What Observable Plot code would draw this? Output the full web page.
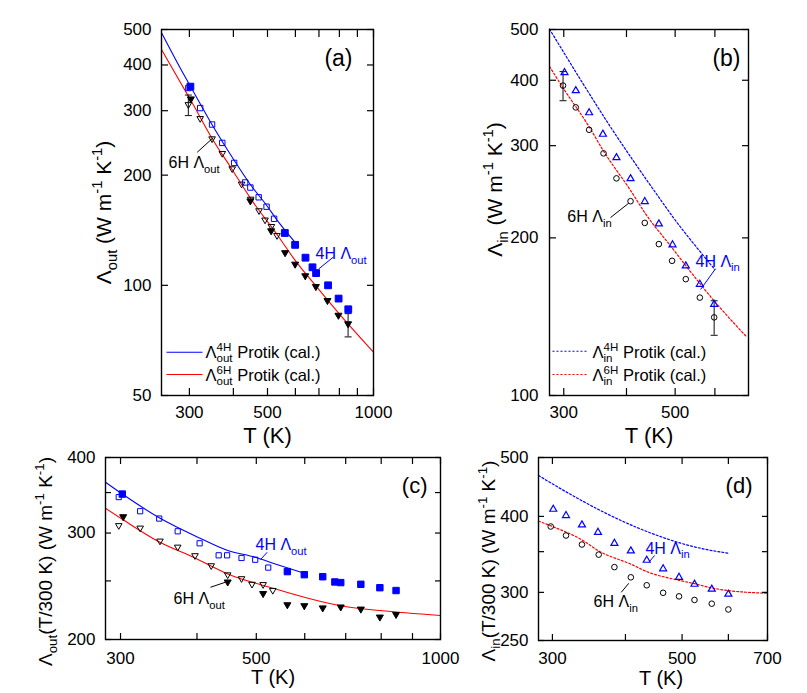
<!DOCTYPE html>
<html><head><meta charset="utf-8">
<script src="https://cdn.jsdelivr.net/npm/d3@7"></script>
<script src="https://cdn.jsdelivr.net/npm/@observablehq/plot@0.6"></script>
<style>
body{margin:0;background:#fff;}
#wrap{position:relative;width:807px;height:693px;font-family:"Liberation Sans",Arial,Helvetica,sans-serif;}
#wrap svg{position:absolute;overflow:visible;}
</style></head><body><div id="wrap"></div>
<script>
// ================= DATA =================
// Panel (a): out-of-plane conductivity vs T
const a4hOpenT = [298, 322, 348, 372, 402, 432, 447, 472, 497, 522];
const a4hOpenL = [346, 305, 275, 245, 216, 191, 185, 174, 164, 152];
const a4hFillT = [302, 560, 599, 641, 671, 687, 743, 796, 848];
const a4hFillL = [349, 139, 129, 119, 112, 108, 100, 92, 86];
const a6hOpenT = [298, 322, 348, 372, 397, 422, 448, 473, 492, 513, 532];
const a6hOpenL = [310, 284, 250, 228, 207, 188, 171, 159, 150, 144, 136];
const a6hFillT = [303, 447, 512, 561, 599, 640, 686, 740, 795, 847];
const a6hFillL = [321, 169, 140, 122, 113.5, 105.5, 98.6, 90.3, 82.3, 78];
const aErrT = [298, 847];
const aErrLo = [291, 72.3];
const aErrHi = [331, 83.7];
const aCal4hT = [250, 284, 302, 347, 404, 448, 498, 537, 599];
const aCal4hL = [490, 389, 350, 276, 218, 188, 165, 149, 131];
const aCal6hT = [250, 284, 303, 348, 397, 449, 537, 599, 687, 796, 1000];
const aCal6hL = [441, 356, 320, 252, 207, 172, 136, 117, 99.5, 84, 65.7];

// Panel (b): in-plane conductivity vs T
const b4hT = [301, 317, 337, 359, 382, 407.5, 435, 464, 494, 525, 560, 598];
const b4hL = [415.6, 383.8, 348.3, 316.9, 285.9, 260.6, 235.7, 213.6, 194.9, 177.6, 163.8, 150];
const b6hT = [299, 317, 337, 360, 382, 407.5, 435, 464, 493, 525, 560, 598];
const b6hL = [390.7, 355, 321.7, 290, 259.8, 235, 213.6, 194.6, 180.8, 166.8, 153.8, 141];
const bErrT = [299, 598];
const bErrLo = [365.6, 130.3];
const bErrHi = [415.6, 151.7];
const bCal4hT = [281, 324, 370, 420, 467, 497, 549, 600];
const bCal4hL = [501, 401, 328, 274, 237, 218, 193, 174];
const bCal6hT = [281, 300, 337, 360, 408, 437, 494, 525, 562, 600, 650, 694];
const bCal6hL = [425, 385, 326, 293, 246, 222, 191, 177, 163, 151, 138.5, 129.4];

// Panel (c): Λout·(T/300 K) vs T
const c4hOpenT = [298, 323, 347, 372, 404, 434, 448, 473, 498, 523];
const c4hOpenV = [344, 326, 317, 302, 288.5, 275.6, 275.6, 272.8, 271, 263];
const c4hFillT = [302, 562, 599, 642, 672, 687, 741, 796, 846];
const c4hFillV = [348, 259, 256, 254, 249, 248.4, 246.8, 243.6, 241];
const c6hOpenT = [298, 323, 348, 372, 397, 422, 449, 473, 492, 513, 532];
const c6hOpenV = [307.6, 304.7, 290, 283.4, 274.3, 264, 255, 251.3, 246, 245.7, 240.3];
const c6hFillT = [303, 449, 513, 562, 599, 642, 687, 741, 796, 846];
const c6hFillV = [318, 248, 237.3, 227.4, 226.6, 224.7, 225.5, 223.7, 217, 219.2];
const cCal4hT = [283.5, 302, 347, 404, 448, 498, 537, 599];
const cCal4hV = [364, 348, 318, 294.4, 281, 273.5, 266.7, 257.4];
const cCal6hT = [283.5, 303, 348, 397, 449, 537, 599, 687, 796, 1000];
const cCal6hV = [329.6, 315.5, 289.6, 272.8, 256.7, 242.6, 234.9, 227.4, 223.3, 219.1];

// Panel (d): Λin·(T/300 K) vs T
const d4hT = [301, 316.5, 337, 359, 383, 408.6, 435, 464, 494, 525, 562, 600];
const d4hV = [412.6, 402.9, 388.8, 378, 362.6, 352.3, 340.1, 329.3, 318.8, 310.6, 304.8, 299.1];
const d6hT = [298, 316.5, 337, 360, 383, 408.6, 435, 464, 494, 525, 562, 600];
const d6hV = [385, 372.1, 359.6, 346.1, 330.1, 317.6, 308.2, 299.5, 295.5, 291.5, 287.4, 281.2];
const dCal4hT = [284, 324, 370, 420, 467, 497, 549, 600];
const dCal4hV = [467, 433.5, 405, 383, 368.5, 361.5, 353, 348];
const dCal6hT = [284, 300, 337, 360, 408, 437, 494, 525, 562, 600, 650, 700];
const dCal6hV = [393, 385, 366, 351, 334, 324, 314, 310, 305, 302, 300, 299];

// Tick values and labels
const aTicksX = [300, 400, 500, 600, 700, 800, 900, 1000], aLabX = [300, 500, 1000];
const aTicksY = [50, 100, 200, 300, 400, 500], aLabY = [50, 100, 200, 300, 400, 500];
const bTicksX = [300, 400, 500, 600], bLabX = [300, 500];
const bTicksY = [100, 200, 300, 400, 500], bLabY = [100, 200, 300, 400, 500];
const cTicksX = [300, 400, 500, 600, 700, 800, 900, 1000], cLabX = [300, 500, 1000];
const cTicksY = [200, 250, 300, 350, 400], cLabY = [200, 300, 400];
const dTicksX = [300, 400, 500, 600, 700], dLabX = [300, 500, 700];
const dTicksY = [250, 300, 350, 400, 500], dLabY = [250, 300, 400, 500];

// Texts
const xTitle = "T (K)";
const yTitleA = "Λ_{out} (W m^{-1} K^{-1})";
const yTitleB = "Λ_{in} (W m^{-1} K^{-1})";
const yTitleC = "Λ_{out}(T/300 K) (W m^{-1} K^{-1})";
const yTitleD = "Λ_{in}(T/300 K) (W m^{-1} K^{-1})";
const legA = ["Λ^{4H}_{out} Protik (cal.)", "Λ^{6H}_{out} Protik (cal.)"];
const legB = ["Λ^{4H}_{in} Protik (cal.)", "Λ^{6H}_{in} Protik (cal.)"];

// ================= HELPERS =================
const BLUE = "#0000ff", RED = "#ff0000";
const rows = (xs, ys) => xs.map((x, i) => ({x, y: ys[i]}));
const errRows = (xs, lo, hi) => xs.map((x, i) => ({x, lo: lo[i], hi: hi[i]}));
const rad = s => Math.sqrt(s / Math.PI);
const sqSym = {draw(c, s) { const r = rad(s); c.moveTo(-r, -r); c.lineTo(r, -r); c.lineTo(r, r); c.lineTo(-r, r); c.closePath(); }};
const triUp = {draw(c, s) { const r = rad(s), h = r * Math.sqrt(3) / 2; c.moveTo(0, -h); c.lineTo(r, h); c.lineTo(-r, h); c.closePath(); }};
const triDown = {draw(c, s) { const r = rad(s), h = r * Math.sqrt(3) / 2; c.moveTo(0, h); c.lineTo(r, -h); c.lineTo(-r, -h); c.closePath(); }};
const capSym = {draw(c, s) { const r = rad(s); c.moveTo(-r, 0); c.lineTo(r, 0); }};
const lineSym = L => ({draw(c) { c.moveTo(-L, 0); c.lineTo(L, 0); }});
const STYLE = {fontFamily: '"Liberation Sans", Arial, Helvetica, sans-serif', fontSize: "16px", overflow: "visible", background: "none", color: "black"};
const fmt = d => String(d);

function axes(xt, xl, yt, yl, tick, padX, padY, fs) {
  const tk = {tickSize: -tick, tickFormat: () => "", label: null, strokeWidth: 1.2};
  return [
    Plot.axisX(xt, {anchor: "bottom", ...tk}),
    Plot.axisX(xt, {anchor: "top", ...tk}),
    Plot.axisY(yt, {anchor: "left", ...tk}),
    Plot.axisY(yt, {anchor: "right", ...tk}),
    Plot.text(xl, {x: d => d, text: fmt, frameAnchor: "bottom", dy: padX, lineAnchor: "top", fontSize: fs}),
    Plot.text(yl, {y: d => d, text: fmt, frameAnchor: "left", dx: -padY, textAnchor: "end", lineAnchor: "middle", fontSize: fs}),
    Plot.frame({stroke: "black", strokeWidth: 1.4})
  ];
}
function annots(list, fs) {
  return [
    Plot.link(list, {x1: "x1", y1: "y1", x2: "x2", y2: "y2", stroke: "color", strokeWidth: 1}),
    Plot.text(list, {x: "x", y: "y", text: "text", fill: "color", textAnchor: "start", lineAnchor: "bottom", fontSize: fs})
  ];
}
function legend(texts, colors, dash, o) {
  const m = [];
  texts.forEach((t, i) => {
    m.push(Plot.dot([t], {frameAnchor: "bottom-left", dx: o.lx, dy: o.ly[i], symbol: lineSym(o.L), r: 3, stroke: colors[i], fill: "none", strokeWidth: 1.1, strokeDasharray: dash}));
    m.push(Plot.text([t], {frameAnchor: "bottom-left", dx: o.tx, dy: o.ty[i], text: d => d, textAnchor: "start", lineAnchor: "bottom", fontSize: o.fs}));
  });
  return m;
}
const label = (s, o) => Plot.text([s], {text: d => d, ...o});
// rotated axis title: laid out from its start, then centred on the anchor in rich()
const yTitle = (s, o) => Plot.text([s], {text: d => d, frameAnchor: "left", rotate: -90, textAnchor: "start", lineAnchor: "middle", ...o});

// annotation placements (in data units of each panel)
const annA = [
  {text: "6H Λ_{out}", x: 261.7, y: 208.6, x1: 315.8, y1: 231, x2: 350.5, y2: 253, color: "black"},
  {text: "4H Λ_{out}", x: 684.5, y: 117.7, x1: 768.7, y1: 119.4, x2: 699, y2: 110.9, color: BLUE}
];
const annB = [
  {text: "6H Λ_{in}", x: 305, y: 214, x1: 371.8, y1: 218.7, x2: 403.8, y2: 232.8, color: "black"},
  {text: "4H Λ_{in}", x: 549, y: 176.3, x1: 601.6, y1: 174.6, x2: 562, y2: 159.4, color: BLUE}
];
const annC = [
  {text: "4H Λ_{out}", x: 498.5, y: 280.8, x1: 520.9, y1: 278.8, x2: 508, y2: 271.2, color: BLUE},
  {text: "6H Λ_{out}", x: 366.3, y: 228.6, x1: 420.8, y1: 244, x2: 445.4, y2: 248.8, color: "black"}
];
const annD = [
  {text: "4H Λ_{in}", x: 432.8, y: 347.5, x1: 448.7, y1: 345, x2: 438.8, y2: 336.3, color: BLUE},
  {text: "6H Λ_{in}", x: 352.8, y: 283.3, x1: 393.4, y1: 300, x2: 405.3, y2: 310.5, color: "black"}
];

function errMarks(e) {
  return [
    Plot.ruleX(e, {x: "x", y1: "lo", y2: "hi", stroke: "#222", strokeWidth: 1.1}),
    Plot.dot(e, {x: "x", y: "lo", symbol: capSym, r: 3.5, stroke: "#222", strokeWidth: 1.1}),
    Plot.dot(e, {x: "x", y: "hi", symbol: capSym, r: 3.5, stroke: "#222", strokeWidth: 1.1})
  ];
}

// ================= PANEL (a) =================
const pa = Plot.plot({
  width: 400, height: 450, marginLeft: 161, marginRight: 27, marginTop: 29, marginBottom: 55,
  style: STYLE,
  x: {type: "log", domain: [250, 1000]},
  y: {type: "log", domain: [50, 500]},
  marks: [
    Plot.line(rows(aCal4hT, aCal4hL), {x: "x", y: "y", stroke: BLUE, strokeWidth: 1.1, curve: "monotone-x"}),
    Plot.line(rows(aCal6hT, aCal6hL), {x: "x", y: "y", stroke: RED, strokeWidth: 1.1, curve: "monotone-x"}),
    ...errMarks(errRows(aErrT, aErrLo, aErrHi)),
    Plot.dot(rows(a6hOpenT, a6hOpenL), {x: "x", y: "y", symbol: triDown, r: 3.3, stroke: "black", fill: "none", strokeWidth: 1}),
    Plot.dot(rows(a6hFillT, a6hFillL), {x: "x", y: "y", symbol: triDown, r: 3.5, stroke: "black", fill: "black", strokeWidth: 1}),
    Plot.dot(rows(a4hOpenT, a4hOpenL), {x: "x", y: "y", symbol: sqSym, r: 2.7, stroke: BLUE, fill: "none", strokeWidth: 1}),
    Plot.dot(rows(a4hFillT, a4hFillL), {x: "x", y: "y", symbol: sqSym, r: 3.4, stroke: BLUE, fill: BLUE, strokeWidth: 1}),
    ...annots(annA, 16),
    ...legend(legA, [BLUE, RED], null, {lx: 23, ly: [-43.3, -21], L: 18, tx: 44, ty: [-38, -15], fs: 16.5}),
    label("(a)", {frameAnchor: "top-right", dx: -21, dy: 36, textAnchor: "end", lineAnchor: "bottom", fontSize: 23}),
    label(xTitle, {frameAnchor: "bottom", dy: 40, lineAnchor: "middle", fontSize: 22}),
    yTitle(yTitleA, {dx: -57, fontSize: 21}),
    ...axes(aTicksX, aLabX, aTicksY, aLabY, 7, 10, 10, 17)
  ]
});

// ================= PANEL (b) =================
const pb = Plot.plot({
  width: 407, height: 450, marginLeft: 149, marginRight: 59, marginTop: 29, marginBottom: 55,
  style: STYLE,
  x: {type: "log", domain: [281, 700]},
  y: {type: "log", domain: [100, 500]},
  marks: [
    Plot.line(rows(bCal4hT, bCal4hL), {x: "x", y: "y", stroke: BLUE, strokeWidth: 1.2, strokeDasharray: "2 2", curve: "monotone-x"}),
    Plot.line(rows(bCal6hT, bCal6hL), {x: "x", y: "y", stroke: RED, strokeWidth: 1.2, strokeDasharray: "2 2", curve: "monotone-x"}),
    ...errMarks(errRows(bErrT, bErrLo, bErrHi)),
    Plot.dot(rows(b6hT, b6hL), {x: "x", y: "y", symbol: "circle", r: 2.8, stroke: "black", fill: "none", strokeWidth: 1}),
    Plot.dot(rows(b4hT, b4hL), {x: "x", y: "y", symbol: triUp, r: 3.5, stroke: BLUE, fill: "none", strokeWidth: 1.2}),
    ...annots(annB, 16),
    ...legend(legB, [BLUE, RED], "2 2", {lx: 21, ly: [-44.3, -21], L: 18, tx: 43, ty: [-38, -15], fs: 16.5}),
    label("(b)", {frameAnchor: "top-right", dx: -8, dy: 36, textAnchor: "end", lineAnchor: "bottom", fontSize: 23}),
    label(xTitle, {frameAnchor: "bottom", dy: 40, lineAnchor: "middle", fontSize: 22}),
    yTitle(yTitleB, {dx: -54, dy: -23, fontSize: 21}),
    ...axes(bTicksX, bLabX, bTicksY, bLabY, 7, 10, 11, 17)
  ]
});

// ================= PANEL (c) =================
const pc = Plot.plot({
  width: 460, height: 253, marginLeft: 105, marginRight: 20, marginTop: 17, marginBottom: 54,
  style: STYLE,
  x: {type: "log", domain: [283.5, 1000]},
  y: {type: "log", domain: [200, 400]},
  marks: [
    Plot.line(rows(cCal4hT, cCal4hV), {x: "x", y: "y", stroke: BLUE, strokeWidth: 1.1, curve: "monotone-x"}),
    Plot.line(rows(cCal6hT, cCal6hV), {x: "x", y: "y", stroke: RED, strokeWidth: 1.1, curve: "monotone-x"}),
    Plot.dot(rows(c6hOpenT, c6hOpenV), {x: "x", y: "y", symbol: triDown, r: 3.3, stroke: "black", fill: "none", strokeWidth: 1}),
    Plot.dot(rows(c6hFillT, c6hFillV), {x: "x", y: "y", symbol: triDown, r: 3.5, stroke: "black", fill: "black", strokeWidth: 1}),
    Plot.dot(rows(c4hOpenT, c4hOpenV), {x: "x", y: "y", symbol: sqSym, r: 2.6, stroke: BLUE, fill: "none", strokeWidth: 1}),
    Plot.dot(rows(c4hFillT, c4hFillV), {x: "x", y: "y", symbol: sqSym, r: 3.2, stroke: BLUE, fill: BLUE, strokeWidth: 1}),
    ...annots(annC, 16),
    label("(c)", {frameAnchor: "top-right", dx: -13, dy: 35, textAnchor: "end", lineAnchor: "bottom", fontSize: 22}),
    label(xTitle, {frameAnchor: "bottom", dy: 38, lineAnchor: "middle", fontSize: 20}),
    yTitle(yTitleC, {dx: -60, dy: 13, fontSize: 19}),
    ...axes(cTicksX, cLabX, cTicksY, cLabY, 6, 12, 10, 17)
  ]
});

// ================= PANEL (d) =================
const pd = Plot.plot({
  width: 347, height: 253, marginLeft: 78, marginRight: 40, marginTop: 17, marginBottom: 53,
  style: STYLE,
  x: {type: "log", domain: [284, 700]},
  y: {type: "log", domain: [250, 500]},
  marks: [
    Plot.line(rows(dCal4hT, dCal4hV), {x: "x", y: "y", stroke: BLUE, strokeWidth: 1.2, strokeDasharray: "2 2", curve: "monotone-x"}),
    Plot.line(rows(dCal6hT, dCal6hV), {x: "x", y: "y", stroke: RED, strokeWidth: 1.2, strokeDasharray: "2 2", curve: "monotone-x"}),
    Plot.dot(rows(d6hT, d6hV), {x: "x", y: "y", symbol: "circle", r: 2.8, stroke: "black", fill: "none", strokeWidth: 1}),
    Plot.dot(rows(d4hT, d4hV), {x: "x", y: "y", symbol: triUp, r: 3.5, stroke: BLUE, fill: "none", strokeWidth: 1.2}),
    ...annots(annD, 16),
    label("(d)", {frameAnchor: "top-right", dx: -15, dy: 35, textAnchor: "end", lineAnchor: "bottom", fontSize: 22}),
    label(xTitle, {frameAnchor: "bottom", dx: 8, dy: 38, lineAnchor: "middle", fontSize: 20}),
    yTitle(yTitleD, {dx: -50, dy: 12, fontSize: 19}),
    ...axes(dTicksX, dLabX, dTicksY, dLabY, 6, 11, 10, 17)
  ]
});

// ================= LAYOUT =================
const wrap = document.getElementById("wrap");
[[pa, 0, 0], [pb, 400, 0], [pc, 0, 440], [pd, 460, 440]].forEach(([svg, l, t]) => {
  svg.style.left = l + "px"; svg.style.top = t + "px";
  wrap.appendChild(svg);
});

// rich text: _{sub}, ^{sup}; sup immediately followed by sub is stacked
function rich(root) {
  root.querySelectorAll("text").forEach(t => {
    const s = t.textContent;
    if (!/[_^]\{/.test(s)) return;
    const isTitle = s.includes("(W m^{");
    const re = /([_^])\{([^}]*)\}/g, parts = [];
    let last = 0, m;
    while ((m = re.exec(s))) {
      if (m.index > last) parts.push(["n", s.slice(last, m.index)]);
      parts.push([m[1] === "_" ? "sub" : "sup", m[2]]);
      last = re.lastIndex;
    }
    if (last < s.length) parts.push(["n", s.slice(last)]);
    const fs = parseFloat(getComputedStyle(t).fontSize);
    t.textContent = "";
    t.style.whiteSpace = "pre";
    const off = {n: 0, sub: 0.27 * fs, sup: -0.42 * fs};
    let cur = 0, pend = 0, prevSup = null;
    parts.forEach(([type, txt]) => {
      const ts = document.createElementNS("http://www.w3.org/2000/svg", "tspan");
      ts.textContent = txt;
      if (type !== "n") ts.setAttribute("font-size", (0.7 * fs) + "px");
      const dy = off[type] - cur;
      if (dy) ts.setAttribute("dy", dy);
      cur = off[type];
      t.appendChild(ts);
      if (type === "sub" && prevSup) {
        const w = prevSup.getComputedTextLength();
        ts.setAttribute("dx", -w);
        pend = Math.max(0, w - ts.getComputedTextLength());
      } else if (type === "n" && pend) {
        ts.setAttribute("dx", pend); pend = 0;
      }
      prevSup = type === "sup" ? ts : null;
    });
    if (isTitle) {
      // start-anchored title: shift back by half its length so it is centred on its anchor
      const len = t.getComputedTextLength();
      t.setAttribute("x", -len / 2);
    }
  });
}
rich(wrap);
</script></body></html>
